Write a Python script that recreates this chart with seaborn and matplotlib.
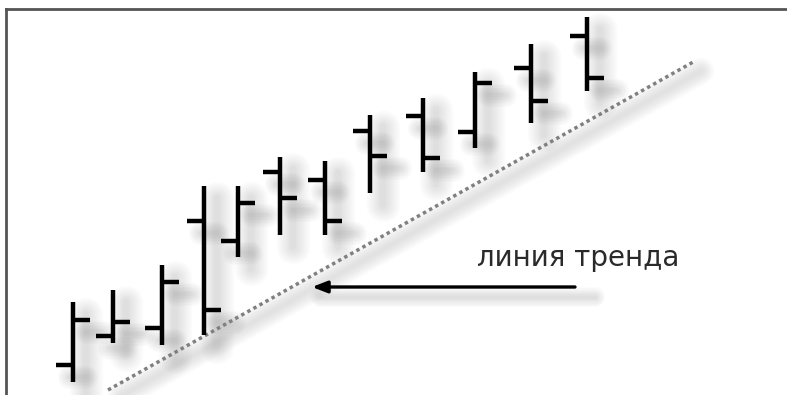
## OHLC bars with a rising trend line (Russian caption "линия тренда")
import numpy as np
import pandas as pd
import seaborn as sns
import matplotlib.pyplot as plt

# bar data (x position, open/high/low/close in price units)
bar_x = [73, 113, 162, 204, 238, 280, 325, 370, 423, 475, 531, 587]
bar_high = [93, 105, 130, 209, 209, 238, 234, 280, 297, 323, 351, 378]
bar_low = [13, 52, 50, 60, 138, 160, 160, 202, 223, 247, 272, 304]
bar_open = [30, 59, 67, 174, 154, 223, 215, 264, 279, 263, 327, 359]
bar_close = [75, 73, 113, 85, 192, 197, 174, 239, 237, 312, 294, 317]

# trend line end points
trend_x = [108, 695]
trend_y = [5, 334]

# arrow pointing at the trend line
arrow_from = (575, 108)
arrow_to = (312, 108)
label_text = "линия тренда"
label_pos = (477, 137)

df = pd.DataFrame({"x": bar_x, "open": bar_open, "high": bar_high,
                   "low": bar_low, "close": bar_close})
trend = pd.DataFrame({"x": trend_x, "y": trend_y})

sns.set_style("white")
plt.rcParams["font.family"] = ["DejaVu Sans"]

fig = plt.figure(figsize=(7.87, 3.95), dpi=100)
ax = fig.add_axes([6 / 787, 0, 1 - 6 / 787, 386 / 395])
ax.set_xlim(6, 787)
ax.set_ylim(0, 386)

tick = 17
dx, dy = 13, -12  # shadow offset

# soft shadows, stacked thin-to-wide for a blur look
for lw in np.linspace(4, 24, 8):
    a = 0.022
    kw = dict(color="#555555", lw=lw, alpha=a, zorder=1, capstyle="round")
    ax.vlines(df["x"] + dx, df["low"] + dy, df["high"] + dy, **kw)
    kw["lw"] = lw * 0.7
    ax.hlines(df["open"] + dy, df["x"] - tick + dx, df["x"] + dx, **kw)
    ax.hlines(df["close"] + dy, df["x"] + dx, df["x"] + tick + dx, **kw)
    ax.plot(trend["x"] + 6, trend["y"] - 10, color="#555555", lw=lw * 0.8,
            alpha=a * 0.9, zorder=1, solid_capstyle="round")
    ax.plot([arrow_to[0] + 8, arrow_from[0] + 20],
            [arrow_from[1] - 10, arrow_from[1] - 10], color="#555555",
            lw=lw * 0.6, alpha=a, zorder=1, solid_capstyle="round")

# OHLC bars
ax.vlines(df["x"], df["low"], df["high"], color="black", lw=3.2, zorder=3)
ax.hlines(df["open"], df["x"] - tick, df["x"], color="black", lw=3.2, zorder=3)
ax.hlines(df["close"], df["x"], df["x"] + tick, color="black", lw=3.2, zorder=3)

# trend line
sns.lineplot(data=trend, x="x", y="y", ax=ax, color="#808080", lw=2.5,
             linestyle=(0, (1, 1)), zorder=2)

ax.annotate("", xy=arrow_to, xytext=arrow_from,
            arrowprops=dict(arrowstyle="-|>,head_length=0.9,head_width=0.35",
                            color="black", lw=2.4, shrinkA=0, shrinkB=0),
            zorder=4)
ax.text(label_pos[0], label_pos[1], label_text, fontsize=20, color="#2a2a2a",
        ha="left", va="center")

ax.set_xlabel("")
ax.set_ylabel("")
ax.set_xticks([])
ax.set_yticks([])
for side in ["right", "bottom"]:
    ax.spines[side].set_visible(False)
for side in ["left", "top"]:
    ax.spines[side].set_color("#555555")
    ax.spines[side].set_linewidth(2)

fig.savefig("out.png", dpi=100)
